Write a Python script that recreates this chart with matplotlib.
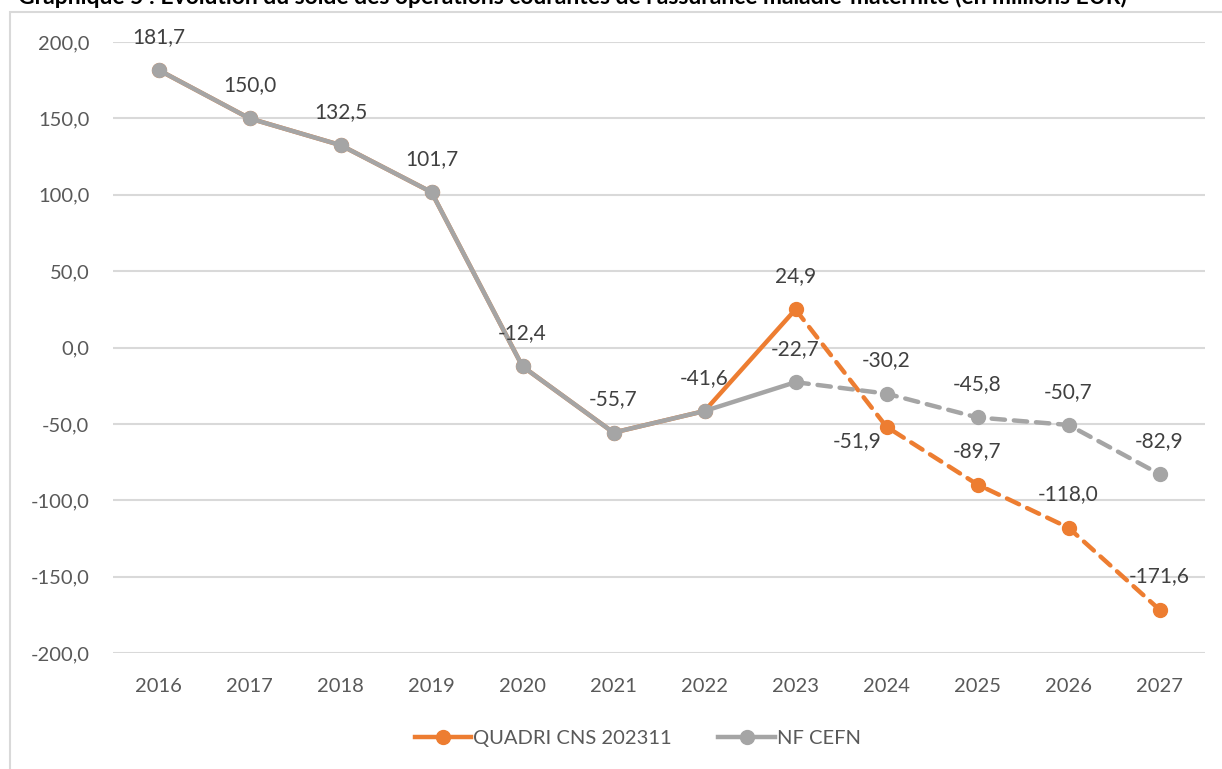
import numpy as np
import matplotlib
matplotlib.use("Agg")
import matplotlib.pyplot as plt
from matplotlib.patches import Rectangle

plt.rcParams['font.family'] = ['Lato', 'DejaVu Sans']

# ------------------------------ data ------------------------------
years = ["2016", "2017", "2018", "2019", "2020", "2021",
         "2022", "2023", "2024", "2025", "2026", "2027"]
quadri = [181.7, 150.0, 132.5, 101.7, -12.4, -55.7,
          -41.6, 24.9, -51.9, -89.7, -118.0, -171.6]
nf_cefn = [181.7, 150.0, 132.5, 101.7, -12.4, -55.7,
           -41.6, -22.7, -30.2, -45.8, -50.7, -82.9]
yticks = [200, 150, 100, 50, 0, -50, -100, -150, -200]
title = ("Graphique 5 : Evolution du solde des opérations courantes "
         "de l'assurance maladie-maternité (en millions EUR)")

ORANGE = "#ED7D31"
GREY = "#A5A5A5"
TXT = "#595959"
LBL = "#404040"

W, H = 1222, 769
fig = plt.figure(figsize=(W / 100, H / 100), dpi=100)

# chart frame
fig.patches.append(Rectangle((10 / W, -0.01), 1.02, 1 - 12 / H + 0.01,
                             transform=fig.transFigure, fill=False,
                             edgecolor="#D9D9D9", linewidth=1.5))
fig.text(18 / W, 1 - 4 / H, title, fontsize=16.5, fontweight="bold",
         color="black", va="baseline", ha="left")

ax = fig.add_axes([113 / W, 1 - 653 / H, (1205 - 113) / W, (653 - 42) / H])
x = np.arange(len(years))
split = years.index("2023")
LW = 3.2
MS = 10


def draw(vals, color, z):
    vals = np.array(vals)
    ax.plot(x[:split + 1], vals[:split + 1], '-', color=color, lw=LW,
            solid_capstyle='round', zorder=z)
    ax.plot(x[split:], vals[split:], '--', color=color, lw=LW,
            dashes=(3.0, 2.0), dash_capstyle='round', zorder=z)
    ax.plot(x, vals, 'o', color=color, markersize=MS, zorder=z + 0.5)


draw(quadri, ORANGE, 3)
draw(nf_cefn, GREY, 4)

fmt = lambda v: f"{v:.1f}".replace(".", ",")
for i, v in enumerate(nf_cefn):
    ax.annotate(fmt(v), (x[i], v), xytext=(0, 24), textcoords="offset points",
                ha="center", va="center", fontsize=15, color=LBL, zorder=6)
for i in range(split, len(years)):
    v = quadri[i]
    off = (-21, -10) if years[i] == "2024" else (0, 24)
    ax.annotate(fmt(v), (x[i], v), xytext=off, textcoords="offset points",
                ha="center", va="center", fontsize=15, color=LBL, zorder=6)

ax.set_xlim(-0.5, len(years) - 0.5)
ax.set_ylim(-200, 200)
ax.set_yticks(yticks)
ax.set_yticklabels([fmt(v) for v in yticks])
ax.set_xticks(x)
ax.set_xticklabels(years)
ax.tick_params(axis="both", length=0, labelsize=14.5, colors=TXT)
ax.tick_params(axis="y", pad=17)
ax.tick_params(axis="x", pad=18)
ax.grid(axis="y", color="#D9D9D9", lw=1.5)
ax.set_axisbelow(True)
for s in ax.spines.values():
    s.set_visible(False)

h1, = ax.plot([], [], '-o', color=ORANGE, lw=LW, markersize=MS)
h2, = ax.plot([], [], '-o', color=GREY, lw=LW, markersize=MS)
fig.legend([h1, h2], ["QUADRI CNS 202311", "NF CEFN"], loc="center",
           bbox_to_anchor=(0.522, 1 - 738 / H), ncol=2, frameon=False,
           fontsize=14.5, labelcolor=TXT, handlelength=2.8, handletextpad=0.1,
           columnspacing=2.3)

fig.savefig("out.png", dpi=100)
